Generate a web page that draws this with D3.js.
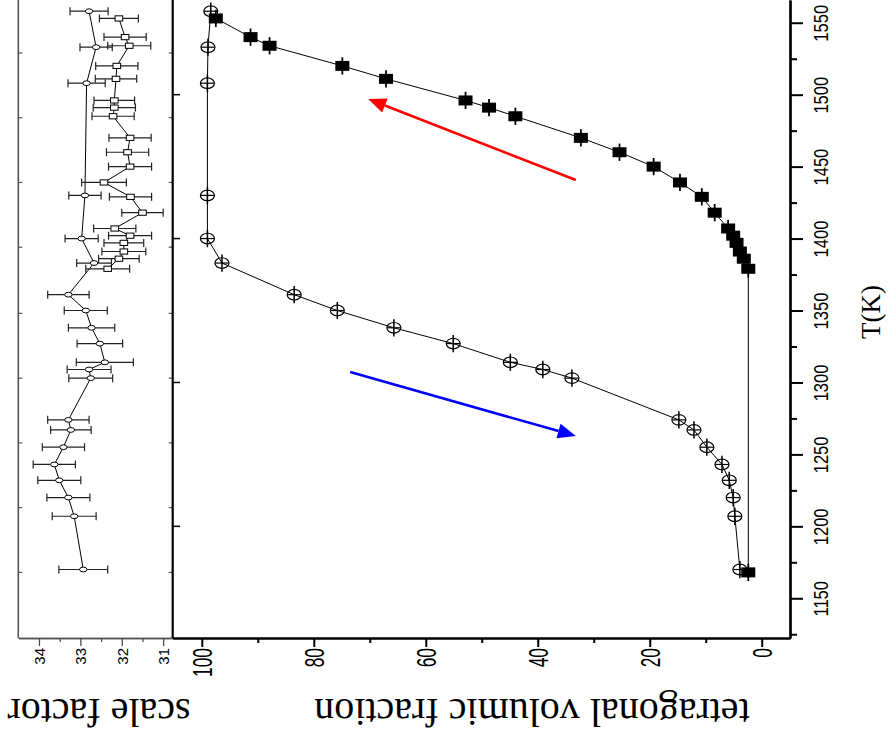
<!DOCTYPE html>
<html>
<head>
<meta charset="utf-8">
<script src="https://cdn.jsdelivr.net/npm/d3@7"></script>
<style>
  html, body { margin: 0; padding: 0; background: #fff; }
  svg { display: block; }
</style>
</head>
<body>
<svg id="chart" width="891" height="747"></svg>
<script>
// ---- Heating run (open circles) ----
const heatT        = [1170, 1207, 1220, 1232, 1243, 1255, 1267, 1274, 1303, 1309, 1314, 1327, 1338, 1350, 1361, 1383, 1400, 1430, 1508, 1533, 1558];
const heatFraction = [3.9, 4.8, 5.1, 5.8, 7.1, 9.8, 12.1, 14.8, 33.9, 39.1, 44.9, 55.1, 65.7, 75.8, 83.5, 96.4, 99.0, 99.0, 99.0, 98.9, 98.4];
const heatScale    = [32.93, 33.15, 33.29, 33.51, 33.63, 33.41, 33.23, 33.29, 32.75, 32.79, 32.41, 32.53, 32.73, 32.87, 33.29, 32.67, 32.97, 32.89, 32.85, 32.62, 32.79];
const heatScaleErr = [0.59, 0.53, 0.52, 0.52, 0.51, 0.51, 0.49, 0.50, 0.53, 0.53, 0.69, 0.55, 0.56, 0.52, 0.50, 0.42, 0.40, 0.39, 0.45, 0.39, 0.46];

// ---- Cooling run (filled squares, listed in cooling order) ----
const coolT        = [1553, 1540, 1534, 1520, 1511, 1496, 1491, 1485, 1470, 1460, 1450, 1439, 1429, 1418, 1407, 1402, 1397, 1391, 1386, 1379, 1168];
const coolFraction = [97.5, 91.3, 87.9, 74.9, 67.1, 52.9, 48.7, 44.0, 32.3, 25.4, 19.3, 14.6, 10.7, 8.4, 6.0, 5.1, 4.5, 3.9, 3.2, 2.4, 2.4];
const coolScaleT   = [1553, 1540, 1534, 1520, 1511, 1496, 1491, 1485, 1470, 1460, 1450, 1439, 1429, 1418, 1407, 1402, 1397, 1391, 1386, 1379];
const coolScale    = [32.07, 31.92, 31.82, 32.12, 32.14, 32.18, 32.18, 32.21, 31.80, 31.86, 31.80, 32.43, 31.79, 31.50, 32.17, 31.80, 31.95, 31.95, 32.07, 32.34];
const coolScaleErr = [0.47, 0.51, 0.52, 0.51, 0.50, 0.49, 0.51, 0.51, 0.51, 0.51, 0.52, 0.54, 0.51, 0.50, 0.51, 0.52, 0.48, 0.53, 0.49, 0.53];

// temperature / fraction uncertainty drawn on every point of the fraction panel
const tErr = 6;
const fracErr = 1.2;

// ---- Tick values ----
const tMajor      = [1150, 1200, 1250, 1300, 1350, 1400, 1450, 1500, 1550];
const tMinor      = [1125, 1175, 1225, 1275, 1325, 1375, 1425, 1475, 1525, 1575];
const tMirror     = [1200, 1300, 1400, 1500];
const tScalePanel = [1168, 1213, 1258, 1303, 1348, 1394, 1439, 1484, 1529];
const fracMajor   = [0, 20, 40, 60, 80, 100];
const fracMinor   = [10, 30, 50, 70, 90];
const scaleMajor  = [31, 32, 33, 34];
const scaleMinor  = [31.5, 32.5, 33.5];

// ---- Direction arrows (data coordinates: T, fraction) ----
const arrowCooling = { color: "#ff0000", from: [1440.7, 33.2], to: [1497.0, 70.3] };
const arrowHeating = { color: "#0000ff", from: [1307.3, 73.5], to: [1262.8, 33.2] };

// ---- Scales: temperature runs vertically, values horizontally ----
const yT = d3.scaleLinear().domain([1122.4, 1565.8]).range([638, 0]);
const xF = d3.scaleLinear().domain([-5.05, 105.2]).range([790, 172.7]);
const xS = d3.scaleLinear().domain([30.77, 34.5]).range([172.7, 18.3]);

const svg = d3.select("#chart");
svg.append("rect").attr("width", 891).attr("height", 747).attr("fill", "#fff");

const SANS = "'Liberation Sans', Arial, sans-serif";
const SERIF = "'Liberation Serif', 'Times New Roman', serif";

// ---------- Scale-factor panel frame ----------
const scalePanel = svg.append("g");
scalePanel.append("line")
  .attr("x1", xS.range()[1]).attr("x2", xS.range()[1])
  .attr("y1", -5).attr("y2", 638)
  .attr("stroke", "#555").attr("stroke-width", 1.6);

// inner ticks on both long edges of the scale panel
scalePanel.selectAll("line.lt").data(tScalePanel).join("line")
  .attr("x1", xS.range()[1]).attr("x2", xS.range()[1] + 4)
  .attr("y1", d => yT(d)).attr("y2", d => yT(d))
  .attr("stroke", "#555").attr("stroke-width", 1.2);
scalePanel.selectAll("line.rt").data(tScalePanel).join("line")
  .attr("x1", xS.range()[0] - 4).attr("x2", xS.range()[0])
  .attr("y1", d => yT(d)).attr("y2", d => yT(d))
  .attr("stroke", "#555").attr("stroke-width", 1.2);

// scale-factor axis
const gSMin = svg.append("g").attr("transform", "translate(0,638)")
  .call(d3.axisBottom(xS).tickValues(scaleMinor).tickSize(4).tickSizeOuter(0).tickFormat(""));
const gSMaj = svg.append("g").attr("transform", "translate(0,638)")
  .call(d3.axisBottom(xS).tickValues(scaleMajor).tickSize(8).tickSizeOuter(0).tickFormat(d3.format("d")));
[gSMin, gSMaj].forEach(g => {
  g.select(".domain").attr("stroke", "#555").attr("stroke-width", 1.6);
  g.selectAll(".tick line").attr("stroke", "#444").attr("stroke-width", 1.2);
});
gSMaj.selectAll(".tick text")
  .attr("x", 0).attr("y", 0).attr("dy", null)
  .attr("transform", "translate(0,10) rotate(-90)")
  .attr("text-anchor", "end")
  .attr("dominant-baseline", "central")
  .attr("font-family", SANS).attr("font-size", 15).attr("fill", "#000");

// ---------- Fraction panel axes ----------
// upper boundary shared with the scale panel
svg.append("line")
  .attr("x1", 172.7).attr("x2", 172.7).attr("y1", -5).attr("y2", 638)
  .attr("stroke", "#000").attr("stroke-width", 2.2);
svg.selectAll("line.mirror").data(tMirror).join("line")
  .attr("x1", 172.7).attr("x2", 180)
  .attr("y1", d => yT(d)).attr("y2", d => yT(d))
  .attr("stroke", "#000").attr("stroke-width", 1.5);

// fraction axis
const gFMin = svg.append("g").attr("transform", "translate(0,638)")
  .call(d3.axisBottom(xF).tickValues(fracMinor).tickSize(5).tickSizeOuter(0).tickFormat(""));
const gFMaj = svg.append("g").attr("transform", "translate(0,638)")
  .call(d3.axisBottom(xF).tickValues(fracMajor).tickSize(9).tickSizeOuter(0).tickFormat(d3.format("d")));
[gFMin, gFMaj].forEach(g => {
  g.select(".domain").attr("stroke", "#000").attr("stroke-width", 2.2);
  g.selectAll(".tick line").attr("stroke", "#000").attr("stroke-width", 2);
});
gFMaj.selectAll(".tick text")
  .attr("x", 0).attr("y", 0).attr("dy", null)
  .attr("transform", "translate(0,10) rotate(-90) scale(0.62,1)")
  .attr("text-anchor", "end")
  .attr("dominant-baseline", "central")
  .attr("font-family", SANS).attr("font-size", 28).attr("fill", "#000");

// temperature axis
const gTMin = svg.append("g").attr("transform", "translate(790,0)")
  .call(d3.axisRight(yT).tickValues(tMinor).tickSize(7).tickSizeOuter(0).tickFormat(""));
const gTMaj = svg.append("g").attr("transform", "translate(790,0)")
  .call(d3.axisRight(yT).tickValues(tMajor).tickSize(13).tickSizeOuter(0).tickFormat(d3.format("d")));
[gTMin, gTMaj].forEach(g => {
  g.select(".domain").attr("stroke", "#000").attr("stroke-width", 2.2);
  g.selectAll(".tick line").attr("stroke", "#000").attr("stroke-width", 2);
});
gTMaj.selectAll(".tick text")
  .attr("x", 0).attr("y", 0).attr("dy", null)
  .attr("transform", "translate(32,0) rotate(-90) scale(0.85,1)")
  .attr("text-anchor", "middle")
  .attr("dominant-baseline", "central")
  .attr("font-family", SANS).attr("font-size", 19.5).attr("fill", "#000");

// ---------- Axis titles ----------
svg.append("text")
  .attr("transform", "translate(880,312) rotate(-90)")
  .attr("text-anchor", "middle")
  .attr("font-family", SERIF).attr("font-size", 27).attr("fill", "#000")
  .text("T(K)");
svg.append("text")
  .attr("transform", "translate(532,699) rotate(180)")
  .attr("text-anchor", "middle")
  .attr("font-family", SERIF).attr("font-size", 40).attr("fill", "#000")
  .text("tetragonal volumic fraction");
svg.append("text")
  .attr("transform", "translate(99,699) rotate(180)")
  .attr("text-anchor", "middle")
  .attr("font-family", SERIF).attr("font-size", 40).attr("fill", "#000")
  .text("scale factor");

// ---------- Data: fraction panel ----------
const heat = heatT.map((t, i) => ({ t, f: heatFraction[i], s: heatScale[i], se: heatScaleErr[i] }));
const cool = coolT.map((t, i) => ({ t, f: coolFraction[i] }));
const coolS = coolScaleT.map((t, i) => ({ t, s: coolScale[i], se: coolScaleErr[i] }));

const fracLine = d3.line().x(d => xF(d.f)).y(d => yT(d.t));
svg.append("path").datum(heat).attr("d", fracLine)
  .attr("fill", "none").attr("stroke", "#000").attr("stroke-width", 1);
svg.append("path").datum(cool).attr("d", fracLine)
  .attr("fill", "none").attr("stroke", "#000").attr("stroke-width", 1);

// heating markers: open ellipse with error bars
const hm = svg.append("g").selectAll("g").data(heat).join("g");
hm.append("line")
  .attr("x1", d => xF(d.f)).attr("x2", d => xF(d.f))
  .attr("y1", d => yT(d.t - tErr)).attr("y2", d => yT(d.t + tErr))
  .attr("stroke", "#000").attr("stroke-width", 1.5);
hm.append("line")
  .attr("x1", d => xF(d.f - fracErr)).attr("x2", d => xF(d.f + fracErr))
  .attr("y1", d => yT(d.t)).attr("y2", d => yT(d.t))
  .attr("stroke", "#000").attr("stroke-width", 1.2);
hm.append("ellipse")
  .attr("cx", d => xF(d.f)).attr("cy", d => yT(d.t))
  .attr("rx", 7).attr("ry", 5.3)
  .attr("fill", "none").attr("stroke", "#000").attr("stroke-width", 1.2);

// cooling markers: filled rectangle with error bar
const cm = svg.append("g").selectAll("g").data(cool).join("g");
cm.append("line")
  .attr("x1", d => xF(d.f)).attr("x2", d => xF(d.f))
  .attr("y1", d => yT(d.t - tErr)).attr("y2", d => yT(d.t + tErr))
  .attr("stroke", "#000").attr("stroke-width", 1.8);
cm.append("rect")
  .attr("x", d => xF(d.f) - 7).attr("y", d => yT(d.t) - 5)
  .attr("width", 14).attr("height", 10)
  .attr("fill", "#000");

// direction arrows
function drawArrow(a) {
  const x1 = xF(a.from[1]), y1 = yT(a.from[0]);
  const x2 = xF(a.to[1]), y2 = yT(a.to[0]);
  const ang = Math.atan2(y2 - y1, x2 - x1);
  const len = 18, half = 7.5;
  const bx = x2 - len * Math.cos(ang), by = y2 - len * Math.sin(ang);
  svg.append("line")
    .attr("x1", x1).attr("y1", y1).attr("x2", bx).attr("y2", by)
    .attr("stroke", a.color).attr("stroke-width", 2.6);
  const px = -Math.sin(ang), py = Math.cos(ang);
  svg.append("path")
    .attr("d", `M${x2},${y2}L${bx + half * px},${by + half * py}L${bx - half * px},${by - half * py}Z`)
    .attr("fill", a.color);
}
drawArrow(arrowCooling);
drawArrow(arrowHeating);

// ---------- Data: scale-factor panel ----------
const scaleLine = d3.line().x(d => xS(d.s)).y(d => yT(d.t));
svg.append("path").datum(heat).attr("d", scaleLine)
  .attr("fill", "none").attr("stroke", "#000").attr("stroke-width", 1);
svg.append("path").datum(coolS).attr("d", scaleLine)
  .attr("fill", "none").attr("stroke", "#000").attr("stroke-width", 1);

function scaleErrorBars(data) {
  const g = svg.append("g").selectAll("g").data(data).join("g")
    .attr("stroke", "#222").attr("stroke-width", 1.2);
  g.append("line")
    .attr("x1", d => xS(d.s - d.se)).attr("x2", d => xS(d.s + d.se))
    .attr("y1", d => yT(d.t)).attr("y2", d => yT(d.t));
  g.append("line")
    .attr("x1", d => xS(d.s - d.se)).attr("x2", d => xS(d.s - d.se))
    .attr("y1", d => yT(d.t) - 4).attr("y2", d => yT(d.t) + 4);
  g.append("line")
    .attr("x1", d => xS(d.s + d.se)).attr("x2", d => xS(d.s + d.se))
    .attr("y1", d => yT(d.t) - 4).attr("y2", d => yT(d.t) + 4);
}
scaleErrorBars(heat);
scaleErrorBars(coolS);

svg.append("g").selectAll("ellipse").data(heat).join("ellipse")
  .attr("cx", d => xS(d.s)).attr("cy", d => yT(d.t))
  .attr("rx", 3.7).attr("ry", 2.4)
  .attr("fill", "#fff").attr("stroke", "#000").attr("stroke-width", 1);
svg.append("g").selectAll("rect").data(coolS).join("rect")
  .attr("x", d => xS(d.s) - 3.8).attr("y", d => yT(d.t) - 2.6)
  .attr("width", 7.6).attr("height", 5.2)
  .attr("fill", "#fff").attr("stroke", "#000").attr("stroke-width", 1);
</script>
</body>
</html>
